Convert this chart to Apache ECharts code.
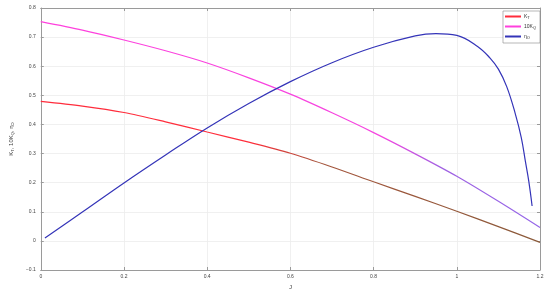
<!DOCTYPE html>
<html>
<head>
<meta charset="utf-8">
<script src="https://cdn.jsdelivr.net/npm/echarts@6/dist/echarts.min.js"></script>
<style>
  html, body { margin: 0; padding: 0; background: #fff; }
  #chart { width: 550px; height: 295px; }
</style>
</head>
<body>
<div id="chart"></div>
<script>
// 读图得到的数据 (J, K_T, 10K_Q, eta_O)
var jAxis = [0, 0.1, 0.2, 0.3, 0.4, 0.5, 0.6, 0.7, 0.8, 0.9, 1.0, 1.1, 1.2];
var kt    = [0.479, 0.463, 0.441, 0.409, 0.374, 0.339, 0.301, 0.254, 0.203, 0.153, 0.102, 0.049, -0.005];
var kq10  = [0.753, 0.724, 0.690, 0.653, 0.611, 0.560, 0.504, 0.440, 0.372, 0.299, 0.222, 0.136, 0.046];

var jEta = [0.01, 0.1, 0.2, 0.3, 0.4, 0.5, 0.6, 0.7, 0.8, 0.9, 0.95, 1.0, 1.05, 1.08, 1.1, 1.12, 1.14, 1.155, 1.165, 1.173, 1.181];
var eta  = [0.01, 0.099, 0.199, 0.295, 0.388, 0.472, 0.547, 0.612, 0.665, 0.704, 0.712, 0.706, 0.668, 0.628, 0.590, 0.530, 0.440, 0.355, 0.272, 0.205, 0.12];

var xTicks = { min: 0, max: 1.2, interval: 0.2 };
var yTicks = { min: -0.1, max: 0.8, interval: 0.1 };

function pairs(xs, ys) {
    return xs.map(function (x, i) { return [x, ys[i]]; });
}

var axisGray = '#9a9a9a';
var labelGray = '#444';

var chart = echarts.init(document.getElementById('chart'));

var option = {
    backgroundColor: '#fff',
    animation: false,
    grid: { left: 26, right: 10, top: 8, bottom: 22 },
    legend: {
        orient: 'vertical',
        right: 10,
        top: 11,
        icon: 'rect',
        itemWidth: 16,
        itemHeight: 2,
        itemGap: 4,
        padding: [3, 4, 3, 2],
        backgroundColor: '#fff',
        borderColor: '#888',
        borderWidth: 0.6,
        textStyle: {
            fontSize: 5, color: '#333', padding: [0, 0, 0, -2],
            rich: { s: { fontSize: 4, padding: [3, 0, 0, 0], color: '#333' } }
        },
        formatter: function (name) {
            return { 'KT': 'K{s|T}', '10KQ': '10K{s|Q}', 'etaO': 'η{s|O}' }[name];
        },
        data: [
            { name: 'KT', itemStyle: { color: '#ff2b3b' } },
            { name: '10KQ', itemStyle: { color: '#ff40dd' } },
            { name: 'etaO', itemStyle: { color: '#3434b8' } }
        ]
    },
    xAxis: [{
        type: 'value',
        min: xTicks.min, max: xTicks.max, interval: xTicks.interval,
        name: 'J',
        nameLocation: 'middle',
        nameGap: 14,
        nameTextStyle: { fontSize: 6, color: labelGray },
        axisLine: { show: true, onZero: false, lineStyle: { color: axisGray } },
        axisTick: { show: true, inside: true, length: 3, lineStyle: { color: axisGray } },
        axisLabel: { fontSize: 5, color: labelGray, margin: 4 },
        splitLine: { show: true, lineStyle: { color: '#ececec', width: 0.8 } }
    }, {
        type: 'value', position: 'top',
        min: xTicks.min, max: xTicks.max, interval: xTicks.interval,
        axisLine: { show: true, onZero: false, lineStyle: { color: axisGray } },
        axisTick: { show: true, inside: true, length: 3, lineStyle: { color: axisGray } },
        axisLabel: { show: false },
        splitLine: { show: false }
    }],
    yAxis: [{
        type: 'value',
        min: yTicks.min, max: yTicks.max, interval: yTicks.interval,
        name: 'K{s|T}, 10K{s|Q}, η{s|O}',
        nameLocation: 'middle',
        nameGap: 17,
        nameTextStyle: {
            fontSize: 6, color: labelGray,
            rich: { s: { fontSize: 4, color: labelGray, padding: [4, 0, 0, 0] } }
        },
        axisLine: { show: true, onZero: false, lineStyle: { color: axisGray } },
        axisTick: { show: true, inside: true, length: 3, lineStyle: { color: axisGray } },
        axisLabel: {
            fontSize: 5, color: labelGray, margin: 5,
            formatter: function (v) { return String(Math.round(v * 10) / 10).replace('-', '\u2212'); }
        },
        splitLine: { show: true, lineStyle: { color: '#ececec', width: 0.8 } }
    }, {
        type: 'value', position: 'right',
        min: yTicks.min, max: yTicks.max, interval: yTicks.interval,
        axisLine: { show: true, onZero: false, lineStyle: { color: axisGray } },
        axisTick: { show: true, inside: true, length: 3, lineStyle: { color: axisGray } },
        axisLabel: { show: false },
        splitLine: { show: false }
    }],
    series: [{
        name: 'KT',
        type: 'line',
        smooth: 0.3,
        showSymbol: false,
        data: pairs(jAxis, kt),
        itemStyle: { color: '#ff2b3b' },
        lineStyle: {
            width: 1.2,
            color: new echarts.graphic.LinearGradient(0, 0, 1, 0, [
                { offset: 0, color: '#ff2b3b' },
                { offset: 0.42, color: '#ff2f3c' },
                { offset: 0.56, color: '#a4553c' },
                { offset: 1, color: '#8a5a3a' }
            ])
        }
    }, {
        name: '10KQ',
        type: 'line',
        smooth: 0.3,
        showSymbol: false,
        data: pairs(jAxis, kq10),
        itemStyle: { color: '#ff40dd' },
        lineStyle: {
            width: 1.2,
            color: new echarts.graphic.LinearGradient(0, 0, 1, 0, [
                { offset: 0, color: '#ff40dd' },
                { offset: 0.68, color: '#f545e0' },
                { offset: 0.8, color: '#a062e2' },
                { offset: 1, color: '#9466e8' }
            ])
        }
    }, {
        name: 'etaO',
        type: 'line',
        smooth: 0.4,
        showSymbol: false,
        data: pairs(jEta, eta),
        itemStyle: { color: '#3434b8' },
        lineStyle: { width: 1.2, color: '#3434b8' }
    }]
};

chart.setOption(option);
</script>
</body>
</html>
